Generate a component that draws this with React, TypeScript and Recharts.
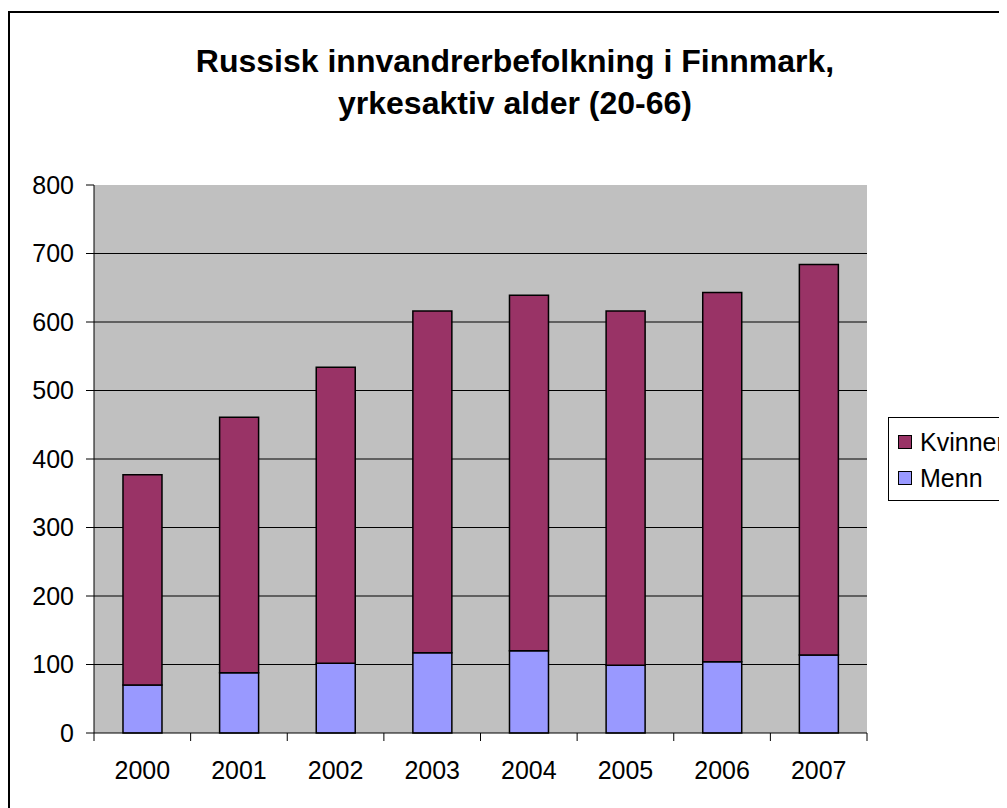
import React from 'react';
import { BarChart, Bar, XAxis, YAxis, CartesianGrid, Legend } from 'recharts';

const years = ['2000', '2001', '2002', '2003', '2004', '2005', '2006', '2007'];
const menn = [70, 88, 102, 117, 120, 99, 104, 114];
const kvinner = [307, 373, 432, 499, 519, 517, 539, 570];
const yTicks = [0, 100, 200, 300, 400, 500, 600, 700, 800];
const gridValues = [100, 200, 300, 400, 500, 600, 700];
const legendOrder = ['Kvinner', 'Menn'];

const data = years.map((year, i) => ({ year, Menn: menn[i], Kvinner: kvinner[i] }));

const FONT = '"Liberation Sans", Arial, sans-serif';

// x ticks sit on category boundaries, like Excel
function YearTick(props: any) {
    const { x, y, payload, index, visibleTicksCount } = props;
    const half = payload.offset ?? 0;
    const axisY = y - 28;
    const last = visibleTicksCount ? index === visibleTicksCount - 1 : payload.value === years[years.length - 1];
    return (
        <g>
            <line x1={x - half} x2={x - half} y1={axisY} y2={axisY + 8} stroke="#000" />
            {last && <line x1={x + half} x2={x + half} y1={axisY} y2={axisY + 8} stroke="#000" />}
            <text x={x} y={axisY + 46} textAnchor="middle" fontSize={25} fill="#000">
                {payload.value}
            </text>
        </g>
    );
}

function LegendBox(props: any) {
    const items = [...(props.payload || [])].sort(
        (a: any, b: any) => legendOrder.indexOf(a.value) - legendOrder.indexOf(b.value)
    );
    return (
        <div style={{ border: '1px solid #000', background: '#fff', width: 170, height: 84, boxSizing: 'border-box', paddingTop: 6 }}>
            {items.map((it: any) => (
                <div key={it.value} style={{ display: 'flex', alignItems: 'center', height: 36, paddingLeft: 9 }}>
                    <span style={{ width: 12, height: 12, background: it.color, border: '1.5px solid #000', display: 'inline-block' }} />
                    <span style={{ fontSize: 25, marginLeft: 8, color: '#000' }}>{it.value}</span>
                </div>
            ))}
        </div>
    );
}

export default function App() {
    return (
        <div style={{ width: 999, height: 800, overflow: 'hidden', fontFamily: FONT }}>
            <div
                style={{
                    marginTop: 3,
                    borderTop: '2px solid #000',
                    borderLeft: '2px solid #000',
                    width: 997,
                    height: 795,
                    position: 'relative',
                    background: '#fff',
                }}
            >
                <div
                    style={{
                        position: 'absolute',
                        left: 105,
                        top: 27,
                        width: 800,
                        textAlign: 'center',
                        fontSize: 32,
                        fontWeight: 'bold',
                        lineHeight: '42px',
                        color: '#000',
                    }}
                >
                    Russisk innvandrerbefolkning i Finnmark,
                    <br />
                    yrkesaktiv alder (20-66)
                </div>
                <BarChart
                    width={997}
                    height={795}
                    data={data}
                    margin={{ top: 172, right: 140, bottom: 0, left: 0 }}
                    barCategoryGap="30%"
                >
                    <CartesianGrid vertical={false} stroke="#000" fill="#C0C0C0" horizontalValues={gridValues} />
                    <XAxis
                        dataKey="year"
                        height={75}
                        tickSize={0}
                        tickMargin={28}
                        axisLine={{ stroke: '#000' }}
                        tickLine={false}
                        tick={<YearTick />}
                        interval={0}
                    />
                    <XAxis xAxisId="top" dataKey="year" orientation="top" height={0} tick={false} tickLine={false} axisLine={{ stroke: '#808080' }} />
                    <YAxis
                        domain={[0, 800]}
                        ticks={yTicks}
                        width={84}
                        tickSize={8}
                        tickMargin={12}
                        axisLine={{ stroke: '#000' }}
                        tickLine={{ stroke: '#000' }}
                        tick={{ fontSize: 25, fill: '#000' }}
                        interval={0}
                    />
                    <YAxis yAxisId="r" orientation="right" width={0} domain={[0, 800]} tick={false} tickLine={false} axisLine={{ stroke: '#808080' }} />
                    <Bar dataKey="Menn" stackId="a" fill="#9999FF" stroke="#000" strokeWidth={1.5} isAnimationActive={false} />
                    <Bar dataKey="Kvinner" stackId="a" fill="#993366" stroke="#000" strokeWidth={1.5} isAnimationActive={false} />
                    <Legend
                        layout="vertical"
                        align="center"
                        verticalAlign="middle"
                        wrapperStyle={{ left: 878, top: 404, width: 170 }}
                        content={<LegendBox />}
                    />
                </BarChart>
            </div>
        </div>
    );
}
